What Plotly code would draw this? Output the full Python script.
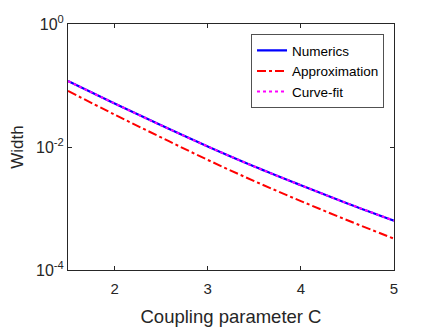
import plotly.graph_objects as go

coupling = [1.5, 2.0, 2.5, 3.0, 3.5, 4.0, 4.5, 5.0]
numerics = [0.118, 0.0511, 0.0225, 0.0102, 0.00482, 0.00239, 0.00121, 0.000634]
approximation = [0.0815, 0.0337, 0.0143, 0.00617, 0.00279, 0.00132, 0.000644, 0.000323]
curve_fit = [0.118, 0.0511, 0.0225, 0.0102, 0.00482, 0.00239, 0.00121, 0.000634]

ytick_vals = [1e-4, 1e-2, 1e0]
ytick_text = ["10<sup>-4</sup>", "10<sup>-2</sup>", "10<sup>0</sup>"]

axis_col = "#262626"

fig = go.Figure()
fig.add_trace(go.Scatter(x=coupling, y=numerics, name="Numerics", mode="lines",
                         line=dict(color="#0000ff", width=2.2, shape="spline")))
fig.add_trace(go.Scatter(x=coupling, y=approximation, name="Approximation", mode="lines",
                         line=dict(color="#ff0000", width=2, dash="dashdot", shape="spline")))
fig.add_trace(go.Scatter(x=coupling, y=curve_fit, name="Curve-fit", mode="lines",
                         line=dict(color="#ff00ff", width=2, dash="dot", shape="spline")))

# page body adds an 8px offset, so margins are shifted to compensate
fig.update_layout(
    width=436,
    height=327,
    margin=dict(l=60, r=50, t=16, b=65),
    paper_bgcolor="white",
    plot_bgcolor="white",
    font=dict(family="Liberation Sans, Arial, sans-serif", color=axis_col),
    legend=dict(
        x=0.970, y=0.958, xanchor="right", yanchor="top",
        bordercolor=axis_col, borderwidth=0.8, bgcolor="white",
        font=dict(size=13.5, color="black"),
        tracegroupgap=0, itemwidth=30,
    ),
)

fig.update_xaxes(
    range=[1.5, 5], tickvals=[2, 3, 4, 5],
    ticks="inside", ticklen=4, tickcolor=axis_col,
    showline=True, linecolor=axis_col, linewidth=1, mirror="ticks",
    showgrid=False, zeroline=False, automargin=False,
    tickfont=dict(size=15), ticklabelstandoff=5,
    title=dict(text="Coupling parameter C", font=dict(size=18.5), standoff=14),
)
fig.update_yaxes(
    type="log", range=[-4, 0],
    tickvals=ytick_vals, ticktext=ytick_text,
    ticks="inside", ticklen=4, tickcolor=axis_col,
    showline=True, linecolor=axis_col, linewidth=1, mirror="ticks",
    showgrid=False, zeroline=False, automargin=False,
    tickfont=dict(size=16),
    title=dict(text="Width", font=dict(size=17), standoff=14),
)

fig.write_html("out.html")
